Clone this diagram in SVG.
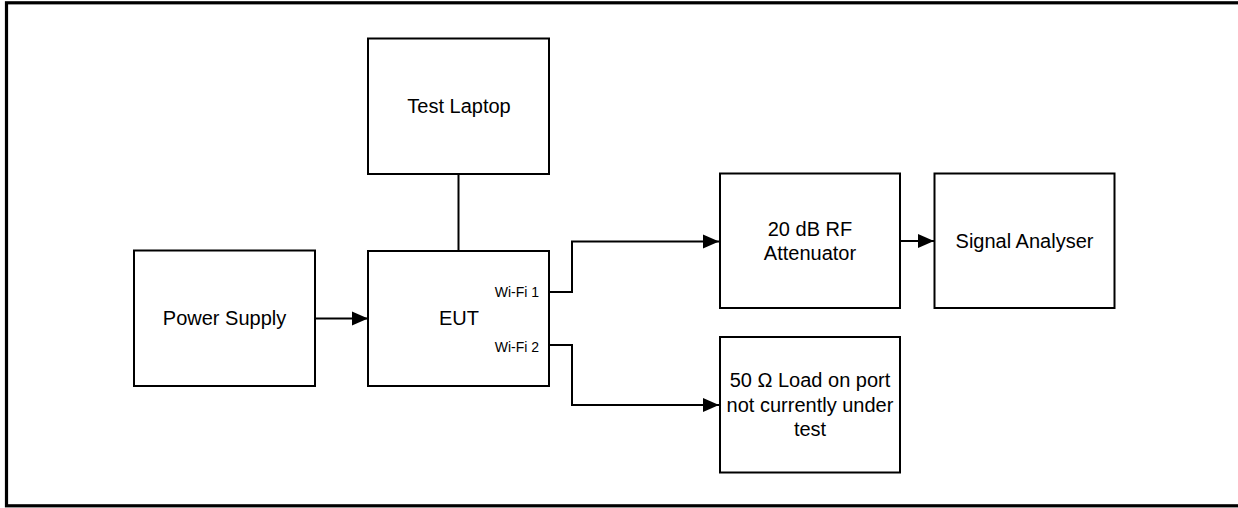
<svg xmlns="http://www.w3.org/2000/svg" width="1238" height="508" viewBox="0 0 1238 508">
  <style>
    .box { fill: #ffffff; stroke: #000000; stroke-width: 2; }
    .lbl { font-family: "Liberation Sans", Arial, sans-serif; font-size: 20px; fill: #000000; text-anchor: middle; }
    .port { font-family: "Liberation Sans", Arial, sans-serif; font-size: 14px; fill: #000000; text-anchor: end; }
    .wire { fill: none; stroke: #000000; stroke-width: 2; }
    .frame { fill: none; stroke: #000000; stroke-width: 3.2; }
  </style>
  <defs>
    <marker id="arrow" markerUnits="userSpaceOnUse" markerWidth="18" markerHeight="16" refX="16" refY="8" orient="auto">
      <path d="M0,1 L16,8 L0,15 z" fill="#000000"/>
    </marker>
  </defs>
  <rect x="0" y="0" width="1238" height="508" fill="#ffffff"/>
  <rect class="frame" x="6.5" y="2.8" width="1240" height="503"/>

  <g id="connectors">
    <line class="wire" x1="458.5" y1="174" x2="458.5" y2="251"/>
    <line class="wire" x1="315" y1="318.5" x2="368" y2="318.5" marker-end="url(#arrow)"/>
    <polyline class="wire" points="549,292 572,292 572,241.5 719,241.5" marker-end="url(#arrow)"/>
    <line class="wire" x1="900" y1="241" x2="934" y2="241" marker-end="url(#arrow)"/>
    <polyline class="wire" points="549,345 572,345 572,405 719,405" marker-end="url(#arrow)"/>
  </g>

  <g id="test-laptop">
    <rect class="box" x="368" y="38.5" width="181" height="135.5"/>
    <text class="lbl" x="459" y="113">Test Laptop</text>
  </g>

  <g id="power-supply">
    <rect class="box" x="134" y="250.5" width="181" height="135.5"/>
    <text class="lbl" x="224.5" y="325">Power Supply</text>
  </g>

  <g id="eut">
    <rect class="box" x="368" y="251" width="181" height="135"/>
    <text class="lbl" x="459" y="325">EUT</text>
    <text class="port" x="539" y="297">Wi-Fi 1</text>
    <text class="port" x="539" y="351.5">Wi-Fi 2</text>
  </g>

  <g id="attenuator">
    <rect class="box" x="720" y="173.5" width="180" height="134.5"/>
    <text class="lbl" x="810" y="235.5">20 dB RF</text>
    <text class="lbl" x="810" y="259.5">Attenuator</text>
  </g>

  <g id="signal-analyser">
    <rect class="box" x="934.5" y="173.5" width="180" height="134.5"/>
    <text class="lbl" x="1024.5" y="248">Signal Analyser</text>
  </g>

  <g id="load">
    <rect class="box" x="720" y="337" width="180" height="135.5"/>
    <text class="lbl" x="810" y="387">50 Ω Load on port</text>
    <text class="lbl" x="810" y="411.5">not currently under</text>
    <text class="lbl" x="810" y="436">test</text>
  </g>
</svg>
